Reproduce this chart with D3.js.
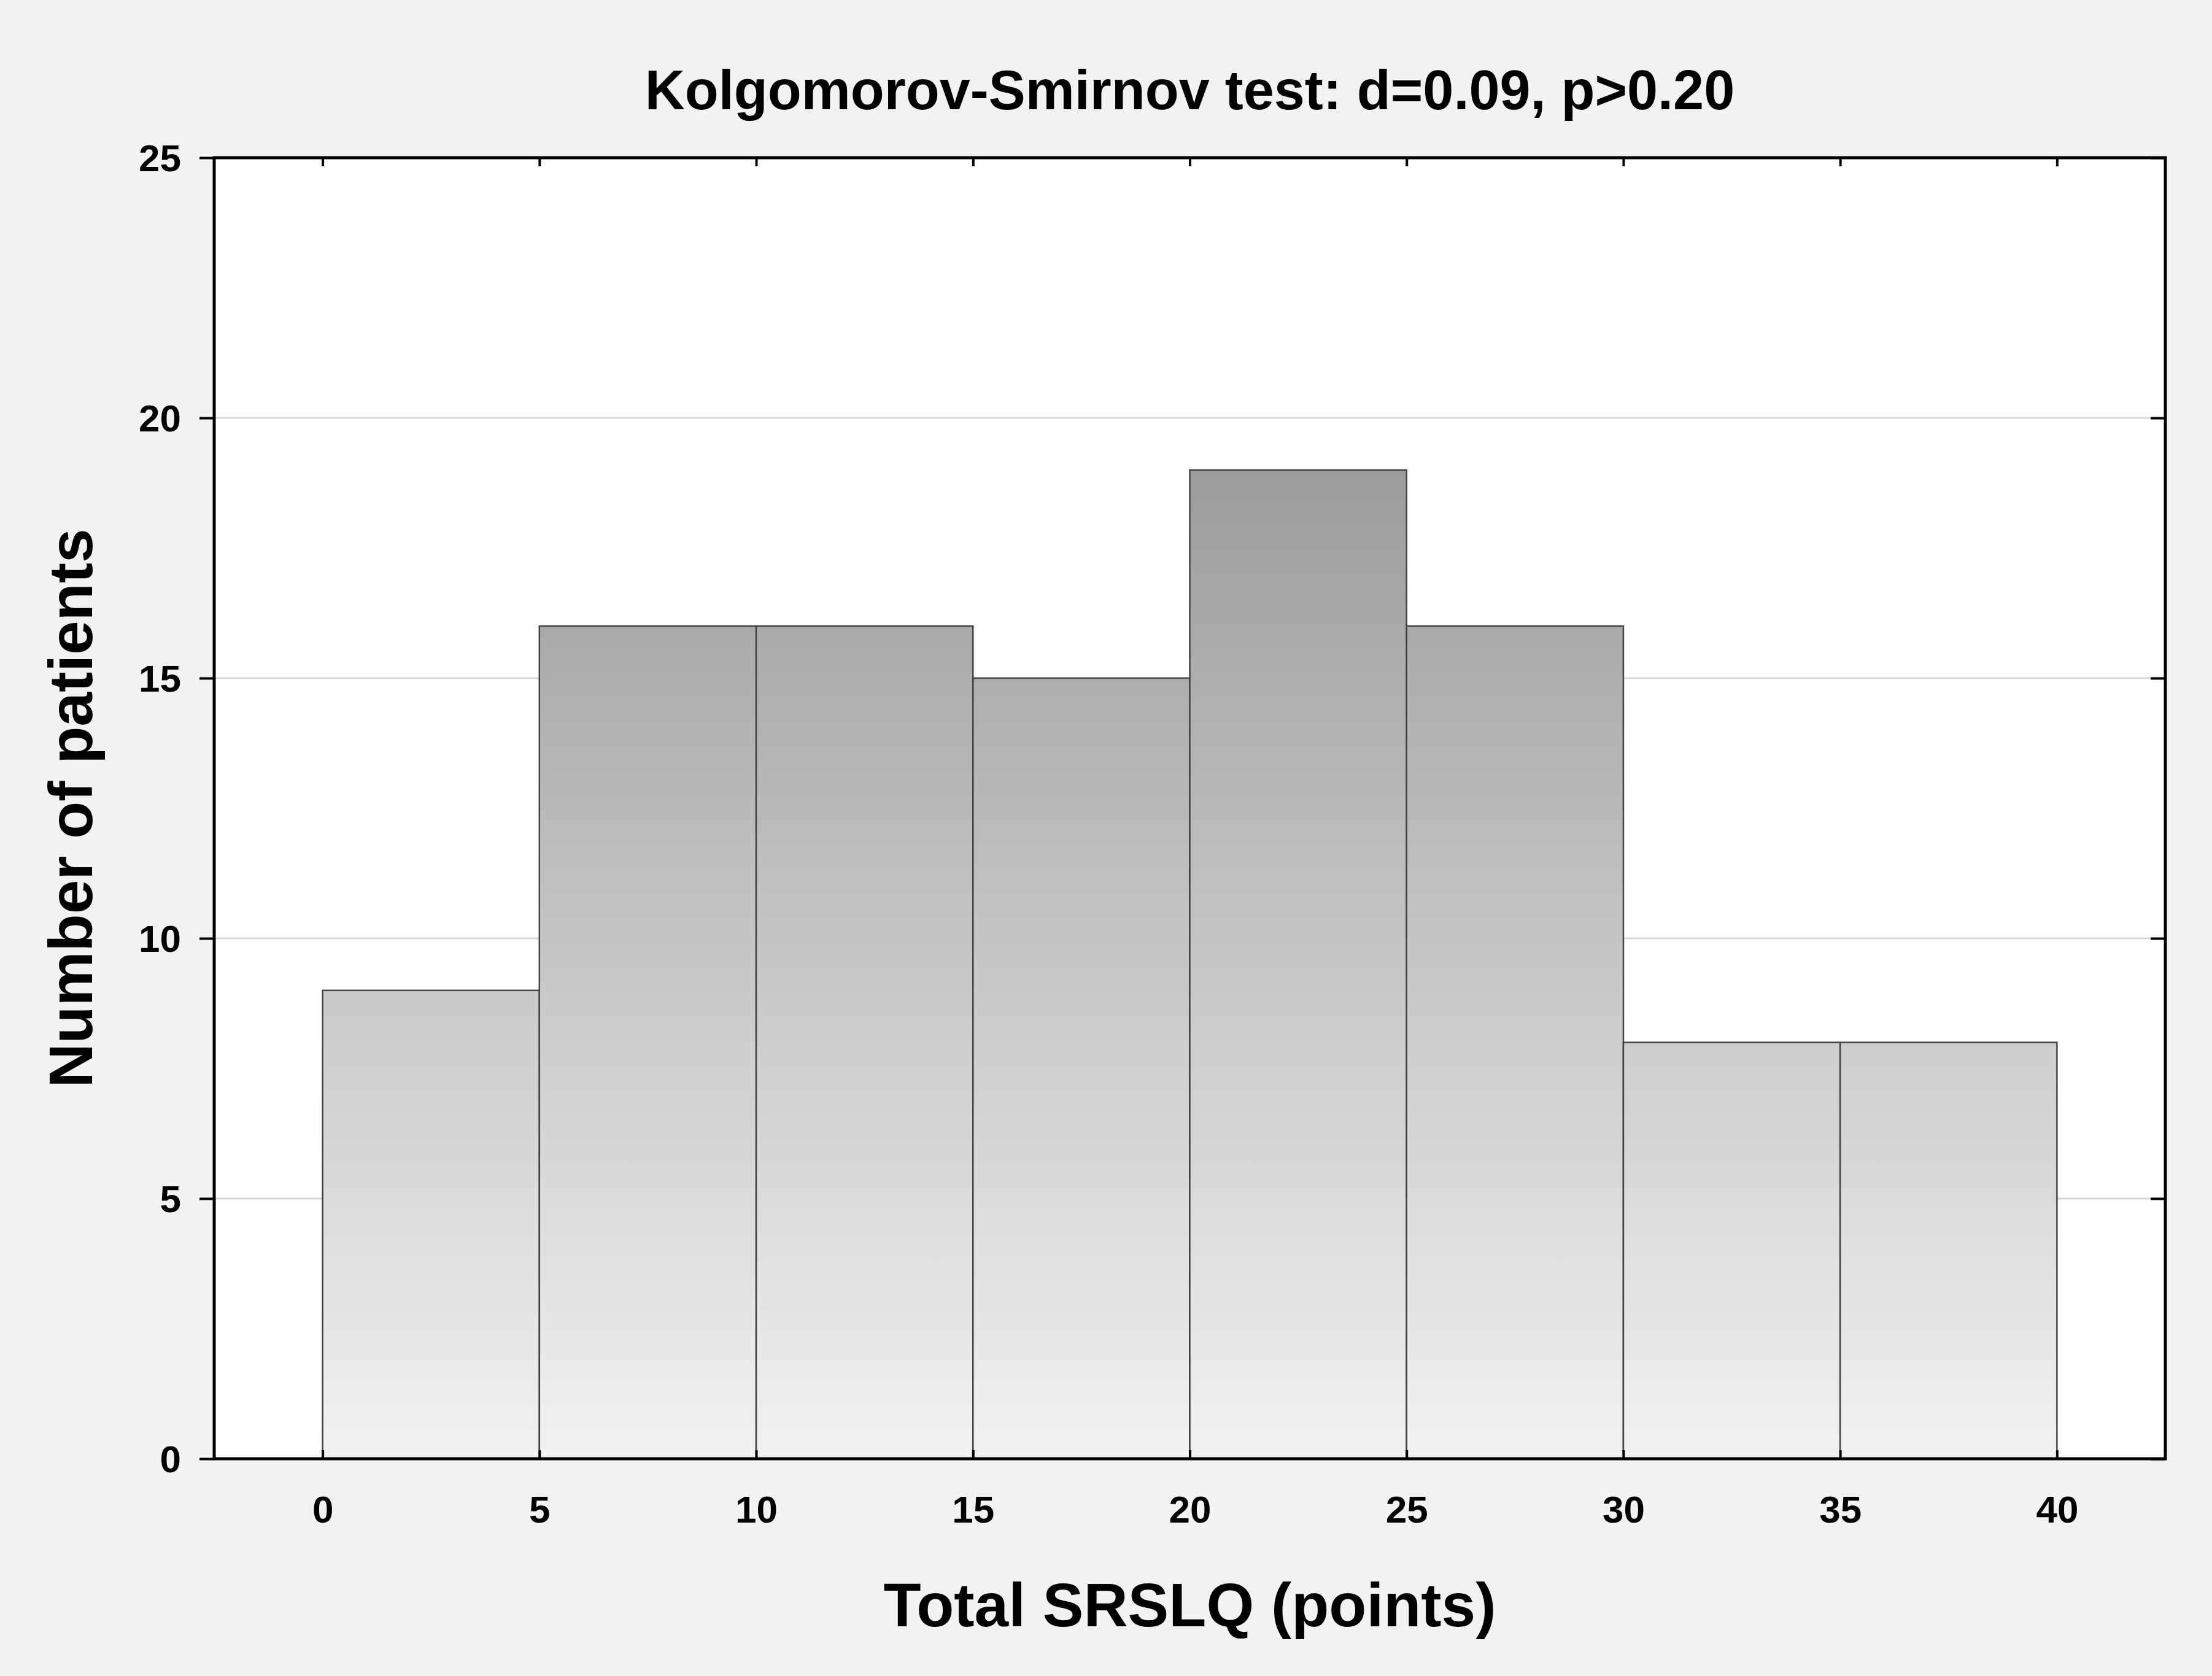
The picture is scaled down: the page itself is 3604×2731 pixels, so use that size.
<!DOCTYPE html><html><head><meta charset="utf-8"><script src="https://cdn.jsdelivr.net/npm/d3@7"></script>
<style>body{margin:0;background:#f2f2f2}</style></head><body><svg id="c" width="3604" height="2731"></svg><script>
const binStarts=[0,5,10,15,20,25,30,35];
const binWidth=5;
const counts=[9,16,16,15,19,16,8,8];
const xTicks=[0,5,10,15,20,25,30,35,40];
const yTicks=[0,5,10,15,20,25];
const title="Kolgomorov-Smirnov test: d=0.09, p>0.20";
const xTitle="Total SRSLQ (points)", yTitle="Number of patients";
const svg=d3.select("#c");
const L=349,R=3528,T=257,B=2377;
svg.append("rect").attr("width",3604).attr("height",2731).attr("fill","#f2f2f2");
svg.append("rect").attr("x",L).attr("y",T).attr("width",R-L).attr("height",B-T).attr("fill","#fff");
const x=d3.scaleLinear().domain([-2.5,42.5]).range([L,R]);
const y=d3.scaleLinear().domain([0,25]).range([B,T]);
const g=svg.append("defs").append("linearGradient").attr("id","gr").attr("gradientUnits","userSpaceOnUse")
 .attr("x1",0).attr("x2",0).attr("y1",y(19)).attr("y2",y(0));
g.append("stop").attr("offset",0).attr("stop-color","#9c9c9c");
g.append("stop").attr("offset",1).attr("stop-color","#f2f2f2");
svg.append("g").selectAll("line").data([5,10,15,20]).join("line")
 .attr("x1",L).attr("x2",R).attr("y1",d=>y(d)).attr("y2",d=>y(d)).attr("stroke","#d6d6d6").attr("stroke-width",3);
svg.append("g").selectAll("rect").data(counts).join("rect")
 .attr("x",(d,i)=>x(binStarts[i])).attr("width",(d,i)=>x(binStarts[i]+binWidth)-x(binStarts[i]))
 .attr("y",d=>y(d)).attr("height",d=>y(0)-y(d)).attr("fill","url(#gr)").attr("stroke","#444").attr("stroke-width",2.5);
const f="Liberation Sans, Arial, sans-serif";
svg.append("g").attr("transform",`translate(${L},0)`).call(d3.axisLeft(y).tickValues(yTicks).tickSize(24).tickPadding(30).tickSizeOuter(0))
 .call(a=>{a.select(".domain").remove();a.selectAll("line").attr("stroke-width",4);a.selectAll("text").attr("font-size",62).attr("font-weight","bold").attr("font-family",f).attr("dy","0.35em");});
svg.append("g").attr("transform",`translate(${R},0)`).call(d3.axisLeft(y).tickValues(yTicks).tickSize(24).tickFormat(""))
 .call(a=>{a.select(".domain").remove();a.selectAll("line").attr("stroke-width",4);});
svg.append("g").attr("transform",`translate(0,${B})`).call(d3.axisBottom(x).tickValues(xTicks).tickSize(-14).tickPadding(60))
 .call(a=>{a.select(".domain").remove();a.selectAll("line").attr("stroke-width",4);a.selectAll("text").attr("font-size",62).attr("font-weight","bold").attr("font-family",f);});
svg.append("g").attr("transform",`translate(0,${T})`).call(d3.axisBottom(x).tickValues(xTicks).tickSize(14).tickFormat(""))
 .call(a=>{a.select(".domain").remove();a.selectAll("line").attr("stroke-width",4);});
svg.append("rect").attr("x",L).attr("y",T).attr("width",R-L).attr("height",B-T).attr("fill","none").attr("stroke","#000").attr("stroke-width",5);
svg.append("text").attr("x",(L+R)/2).attr("y",178).attr("text-anchor","middle").attr("font-size",90).attr("font-weight","bold").attr("font-family",f).text(title);
svg.append("text").attr("x",(L+R)/2).attr("y",2650).attr("text-anchor","middle").attr("font-size",100).attr("font-weight","bold").attr("font-family",f).text(xTitle);
svg.append("text").attr("transform",`translate(150,${(T+B)/2}) rotate(-90)`).attr("text-anchor","middle").attr("font-size",100).attr("font-weight","bold").attr("font-family",f).text(yTitle);
</script></body></html>
